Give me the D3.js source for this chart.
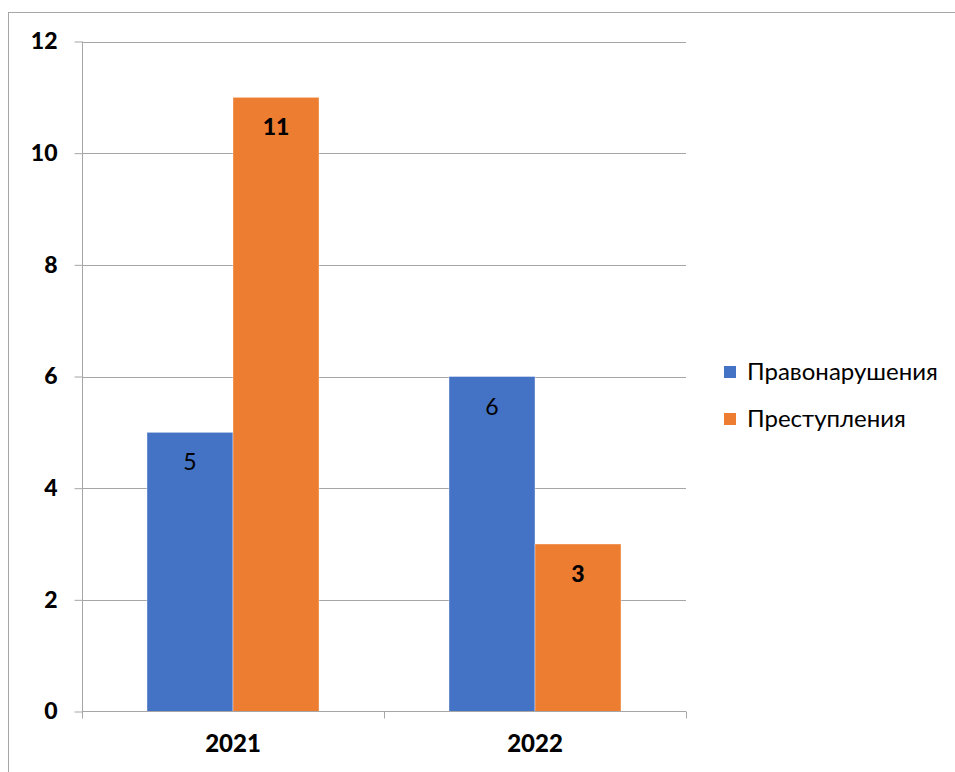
<!DOCTYPE html>
<html><head><meta charset="utf-8">
<script src="https://cdn.jsdelivr.net/npm/d3@7"></script>
<style>body{margin:0;background:#fff}svg{display:block}</style>
</head><body>
<svg id="c" width="955" height="772"></svg>
<script>
const categories = ["2021", "2022"];
const seriesNames = ["Правонарушения", "Преступления"];
const offenses = [5, 6];
const crimes = [11, 3];
const yTicks = [0, 2, 4, 6, 8, 10, 12];
const colors = ["#4472C4", "#ED7D31"];

const seriesValues = [offenses, crimes];
const boldLabel = [false, true];
const svg = d3.select("#c");
const font = "Lato, 'Open Sans', 'Noto Sans', sans-serif";

// outer frame
svg.append("rect").attr("x", 8.5).attr("y", 12.5).attr("width", 960).attr("height", 800)
  .attr("fill", "none").attr("stroke", "#a6a6a6").attr("stroke-width", 1);

const x0 = d3.scaleBand().domain(categories).range([82, 686]).paddingInner(0).paddingOuter(0);
const x1 = d3.scaleBand().domain(seriesNames).range([0, x0.bandwidth()]).paddingInner(0).paddingOuter(0.756);
const y = d3.scaleLinear().domain([0, 12]).range([711.5, 41.5]);

// gridlines
svg.append("g").selectAll("line").data(yTicks.filter(d => d > 0)).join("line")
  .attr("x1", 82).attr("x2", 686).attr("y1", d => Math.round(y(d)) + 0.5).attr("y2", d => Math.round(y(d)) + 0.5)
  .attr("stroke", "#a6a6a6").attr("stroke-width", 1);

// bars
const groups = svg.append("g").selectAll("g").data(categories).join("g")
  .attr("transform", d => `translate(${x0(d)},0)`);
groups.selectAll("rect").data((c, ci) => seriesNames.map((s, si) => ({s, si, v: seriesValues[si][ci]}))).join("rect")
  .attr("x", d => x1(d.s)).attr("width", x1.bandwidth())
  .attr("y", d => y(d.v)).attr("height", d => y(0) - y(d.v))
  .attr("fill", d => colors[d.si]).attr("stroke", "#fff").attr("stroke-opacity", 0.5).attr("stroke-width", 0.75);
groups.selectAll("text").data((c, ci) => seriesNames.map((s, si) => ({s, si, v: seriesValues[si][ci]}))).join("text")
  .attr("x", d => x1(d.s) + x1.bandwidth() / 2).attr("y", d => y(d.v) + 38)
  .attr("text-anchor", "middle").attr("font-family", font).attr("font-size", 23)
  .attr("font-weight", d => boldLabel[d.si] ? "900" : "normal").attr("fill", "#000")
  .text(d => d.v);

// y axis
const yAxis = svg.append("g").attr("transform", "translate(82.5,0)")
  .call(d3.axisLeft(y).tickValues(yTicks).tickSize(8).tickPadding(17).tickFormat(d3.format("d")));
yAxis.select(".domain").attr("stroke", "#a6a6a6").attr("d", `M0,${y(12)}V${y(0)}`);
yAxis.selectAll(".tick line").attr("stroke", "#a6a6a6");
yAxis.selectAll(".tick text").attr("font-family", font).attr("font-size", 23).attr("font-weight", "900").attr("fill", "#000");

// x axis
const xAxis = svg.append("g").attr("transform", `translate(0,${y(0)})`)
  .call(d3.axisBottom(x0).tickSize(0).tickPadding(23));
xAxis.select(".domain").attr("stroke", "#a6a6a6").attr("d", "M82,0H686");
xAxis.selectAll(".tick text").attr("font-family", font).attr("font-size", 24).attr("font-weight", "900").attr("fill", "#000");
svg.append("g").selectAll("line").data([82, 384, 686]).join("line")
  .attr("x1", d => d + 0.5).attr("x2", d => d + 0.5).attr("y1", y(0)).attr("y2", y(0) + 7)
  .attr("stroke", "#a6a6a6");

// legend
const leg = svg.append("g").selectAll("g").data(seriesNames).join("g")
  .attr("transform", (d, i) => `translate(724,${366 + i * 47})`);
leg.append("rect").attr("width", 12).attr("height", 12).attr("fill", (d, i) => colors[i]);
leg.append("text").attr("x", 23).attr("y", 6).attr("dy", "0.35em")
  .attr("font-family", font).attr("font-size", 24).attr("fill", "#000").text(d => d);
</script>
</body></html>
